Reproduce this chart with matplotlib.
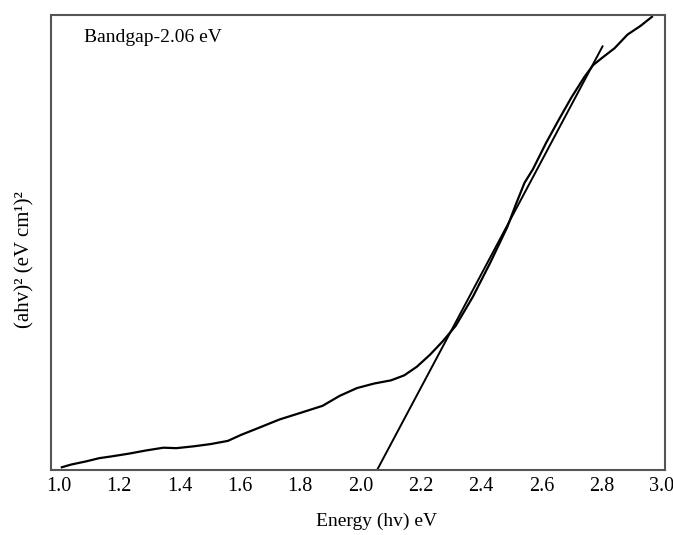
import numpy as np
import matplotlib
matplotlib.use("Agg")
import matplotlib.pyplot as plt

# Tauc plot curve (y in arbitrary units, 0-100)
energy = [1.009, 1.040, 1.090, 1.133, 1.175, 1.232, 1.289, 1.346, 1.389, 1.446,
          1.503, 1.560, 1.603, 1.660, 1.731, 1.803, 1.874, 1.931, 1.988, 2.045,
          2.101, 2.145, 2.187, 2.230, 2.273, 2.316, 2.373, 2.430, 2.487, 2.515,
          2.544, 2.572, 2.615, 2.658, 2.700, 2.743, 2.772, 2.800, 2.843, 2.886,
          2.929, 2.967]
absorb = [0.6, 1.2, 1.9, 2.6, 3.0, 3.6, 4.3, 4.9, 4.8, 5.2,
          5.7, 6.4, 7.7, 9.2, 11.1, 12.6, 14.1, 16.3, 18.0, 19.0,
          19.7, 20.8, 22.7, 25.3, 28.3, 31.7, 38.1, 45.5, 53.4, 58.3,
          63.1, 66.1, 71.8, 77.0, 81.9, 86.4, 89.0, 90.5, 92.7, 95.7,
          97.6, 99.6]

# linear extrapolation of the steep part
fit_x = [2.055, 2.803]
fit_y = [0.0, 93.1]

xticks = [1.0, 1.2, 1.4, 1.6, 1.8, 2.0, 2.2, 2.4, 2.6, 2.8, 3.0]

plt.rcParams["font.family"] = ["Liberation Serif", "DejaVu Serif"]

fig = plt.figure(figsize=(6.73, 5.35), dpi=100)
ax = fig.add_axes([0.0753, 0.1215, 0.9127, 0.8505])

ax.plot(energy, absorb, color="black", lw=1.6)
ax.plot(fit_x, fit_y, color="black", lw=1.4)

ax.set_xlim(0.972, 3.01)
ax.set_ylim(0, 100)
ax.set_xticks(xticks)
ax.set_xticklabels(["%.1f" % t for t in xticks])
ax.set_yticks([])
ax.tick_params(axis="x", length=0, pad=5, labelsize=14.5)

for s in ax.spines.values():
    s.set_color("#555555")
    s.set_linewidth(1.5)

ax.set_xlabel("Energy (hv) eV", fontsize=14)
ax.xaxis.set_label_coords(0.531, -0.093)
ax.set_ylabel("(ahv)² (eV cm¹)²", fontsize=15)
ax.yaxis.set_label_coords(-0.027, 0.463)

ax.text(0.055, 0.94, "Bandgap-2.06 eV", transform=ax.transAxes,
        fontsize=14, va="baseline", ha="left")

fig.savefig("out.png", dpi=100)
